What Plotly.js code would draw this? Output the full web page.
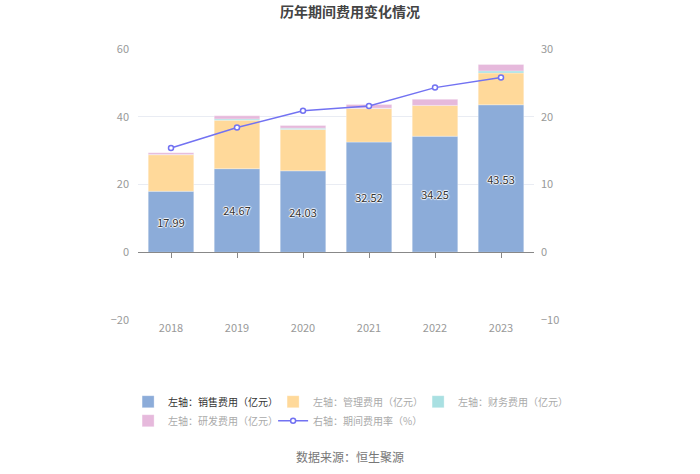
<!DOCTYPE html>
<html><head><meta charset="utf-8">
<script src="https://cdn.plot.ly/plotly-3.0.1.min.js"></script>
<style>html,body{margin:0;padding:0;background:#fff}#chart{width:700px;height:474px}</style>
</head><body><div id="chart"></div>
<script>
const years = ['2018','2019','2020','2021','2022','2023'];
const sales = [17.99, 24.67, 24.03, 32.52, 34.25, 43.53];
const admin = [10.8, 14.3, 12.2, 9.9, 9.1, 9.4];
const finance = [0.1, 0.4, 0.4, 0.1, -0.1, 0.6];
const rnd = [0.5, 0.9, 0.8, 1.1, 1.8, 1.9];
const rate = [15.4, 18.4, 20.9, 21.6, 24.3, 25.8];
const names = ['左轴：销售费用（亿元）','左轴：管理费用（亿元）','左轴：财务费用（亿元）','左轴：研发费用（亿元）','右轴：期间费用率（%）'];

const font = '"Noto Sans CJK SC", "Noto Sans", sans-serif';
const edge = {color:'rgba(255,255,255,0.6)', width:0.5};
const traces = [
  {type:'bar', x:years, y:sales, name:names[0], marker:{color:'#8cacd9', line:edge},
   text:sales.map(v=>v.toFixed(2)), textposition:'inside', insidetextanchor:'middle', constraintext:'none',
   textfont:{color:'#333', size:11, family:font, shadow:'1px 0 1px #fff, -1px 0 1px #fff, 0 1px 1px #fff, 0 -1px 1px #fff'},
   hoverinfo:'skip'},
  {type:'bar', x:years, y:admin, name:'<span style="color:#aaa">'+names[1]+'</span>', marker:{color:'#ffd99a', line:edge}, hoverinfo:'skip'},
  {type:'bar', x:years, y:finance, name:'<span style="color:#aaa">'+names[2]+'</span>', marker:{color:'#a9e0e2', line:edge}, hoverinfo:'skip'},
  {type:'bar', x:years, y:rnd, name:'<span style="color:#aaa">'+names[3]+'</span>', marker:{color:'#e6b9dc', line:edge}, hoverinfo:'skip'},
  {type:'scatter', mode:'lines+markers', x:years, y:rate, yaxis:'y2', name:'<span style="color:#aaa">'+names[4]+'</span>',
   line:{color:'#7272f2', width:1.5}, marker:{symbol:'circle', size:5, color:'#fff', line:{color:'#7272f2', width:1.5}}, hoverinfo:'skip'},
  {type:'scatter', mode:'markers', x:years, y:years.map(()=>null), xaxis:'x2', showlegend:false, hoverinfo:'skip'}
];

const layout = {
  width:700, height:474,
  margin:{l:138, r:166, t:49, b:154},
  paper_bgcolor:'#fff', plot_bgcolor:'#fff',
  font:{family:font, color:'#999', size:11},
  title:{text:'<b>历年期间费用变化情况</b>', x:0.5, xref:'container', y:0.975, yref:'container', yanchor:'middle',
         font:{family:font, size:14, color:'#444'}},
  barmode:'relative', bargap:0.31,
  showlegend:true,
  legend:{orientation:'h', xref:'paper', yref:'paper', x:-0.025, y:-0.248, xanchor:'left', yanchor:'top',
          entrywidth:100, entrywidthmode:'pixels', traceorder:'normal', tracegroupgap:0,
          font:{family:font, size:10, color:'#333'}, itemclick:false},
  xaxis:{type:'category', range:[-0.5,5.5], showline:false, ticks:'', showgrid:false, zeroline:false,
         tickfont:{color:'#999', size:11}, fixedrange:true},
  xaxis2:{type:'category', overlaying:'x', anchor:'free', position:0.25, side:'bottom', range:[-0.5,5.5],
          categoryarray:years, showline:true, linecolor:'#888', linewidth:1, ticks:'outside', ticklen:5, tickcolor:'#888',
          showticklabels:false, showgrid:false, zeroline:false},
  yaxis:{range:[-20,60], dtick:20, showgrid:true, gridcolor:'#e9ecf3', zeroline:false, showline:false,
         tickfont:{color:'#999', size:11}, ticks:'', ticklabelstandoff:8},
  yaxis2:{range:[-10,30], dtick:10, overlaying:'y', side:'right', showgrid:false, zeroline:false, showline:false,
          tickfont:{color:'#999', size:11}, ticklabelstandoff:6},
  annotations:[{text:'数据来源：恒生聚源', xref:'paper', yref:'paper', x:0.535, y:-0.505, xanchor:'center', yanchor:'middle',
                showarrow:false, font:{family:font, size:12, color:'#777'}}]
};
Plotly.newPlot('chart', traces, layout, {displayModeBar:false, staticPlot:true});
</script></body></html>
